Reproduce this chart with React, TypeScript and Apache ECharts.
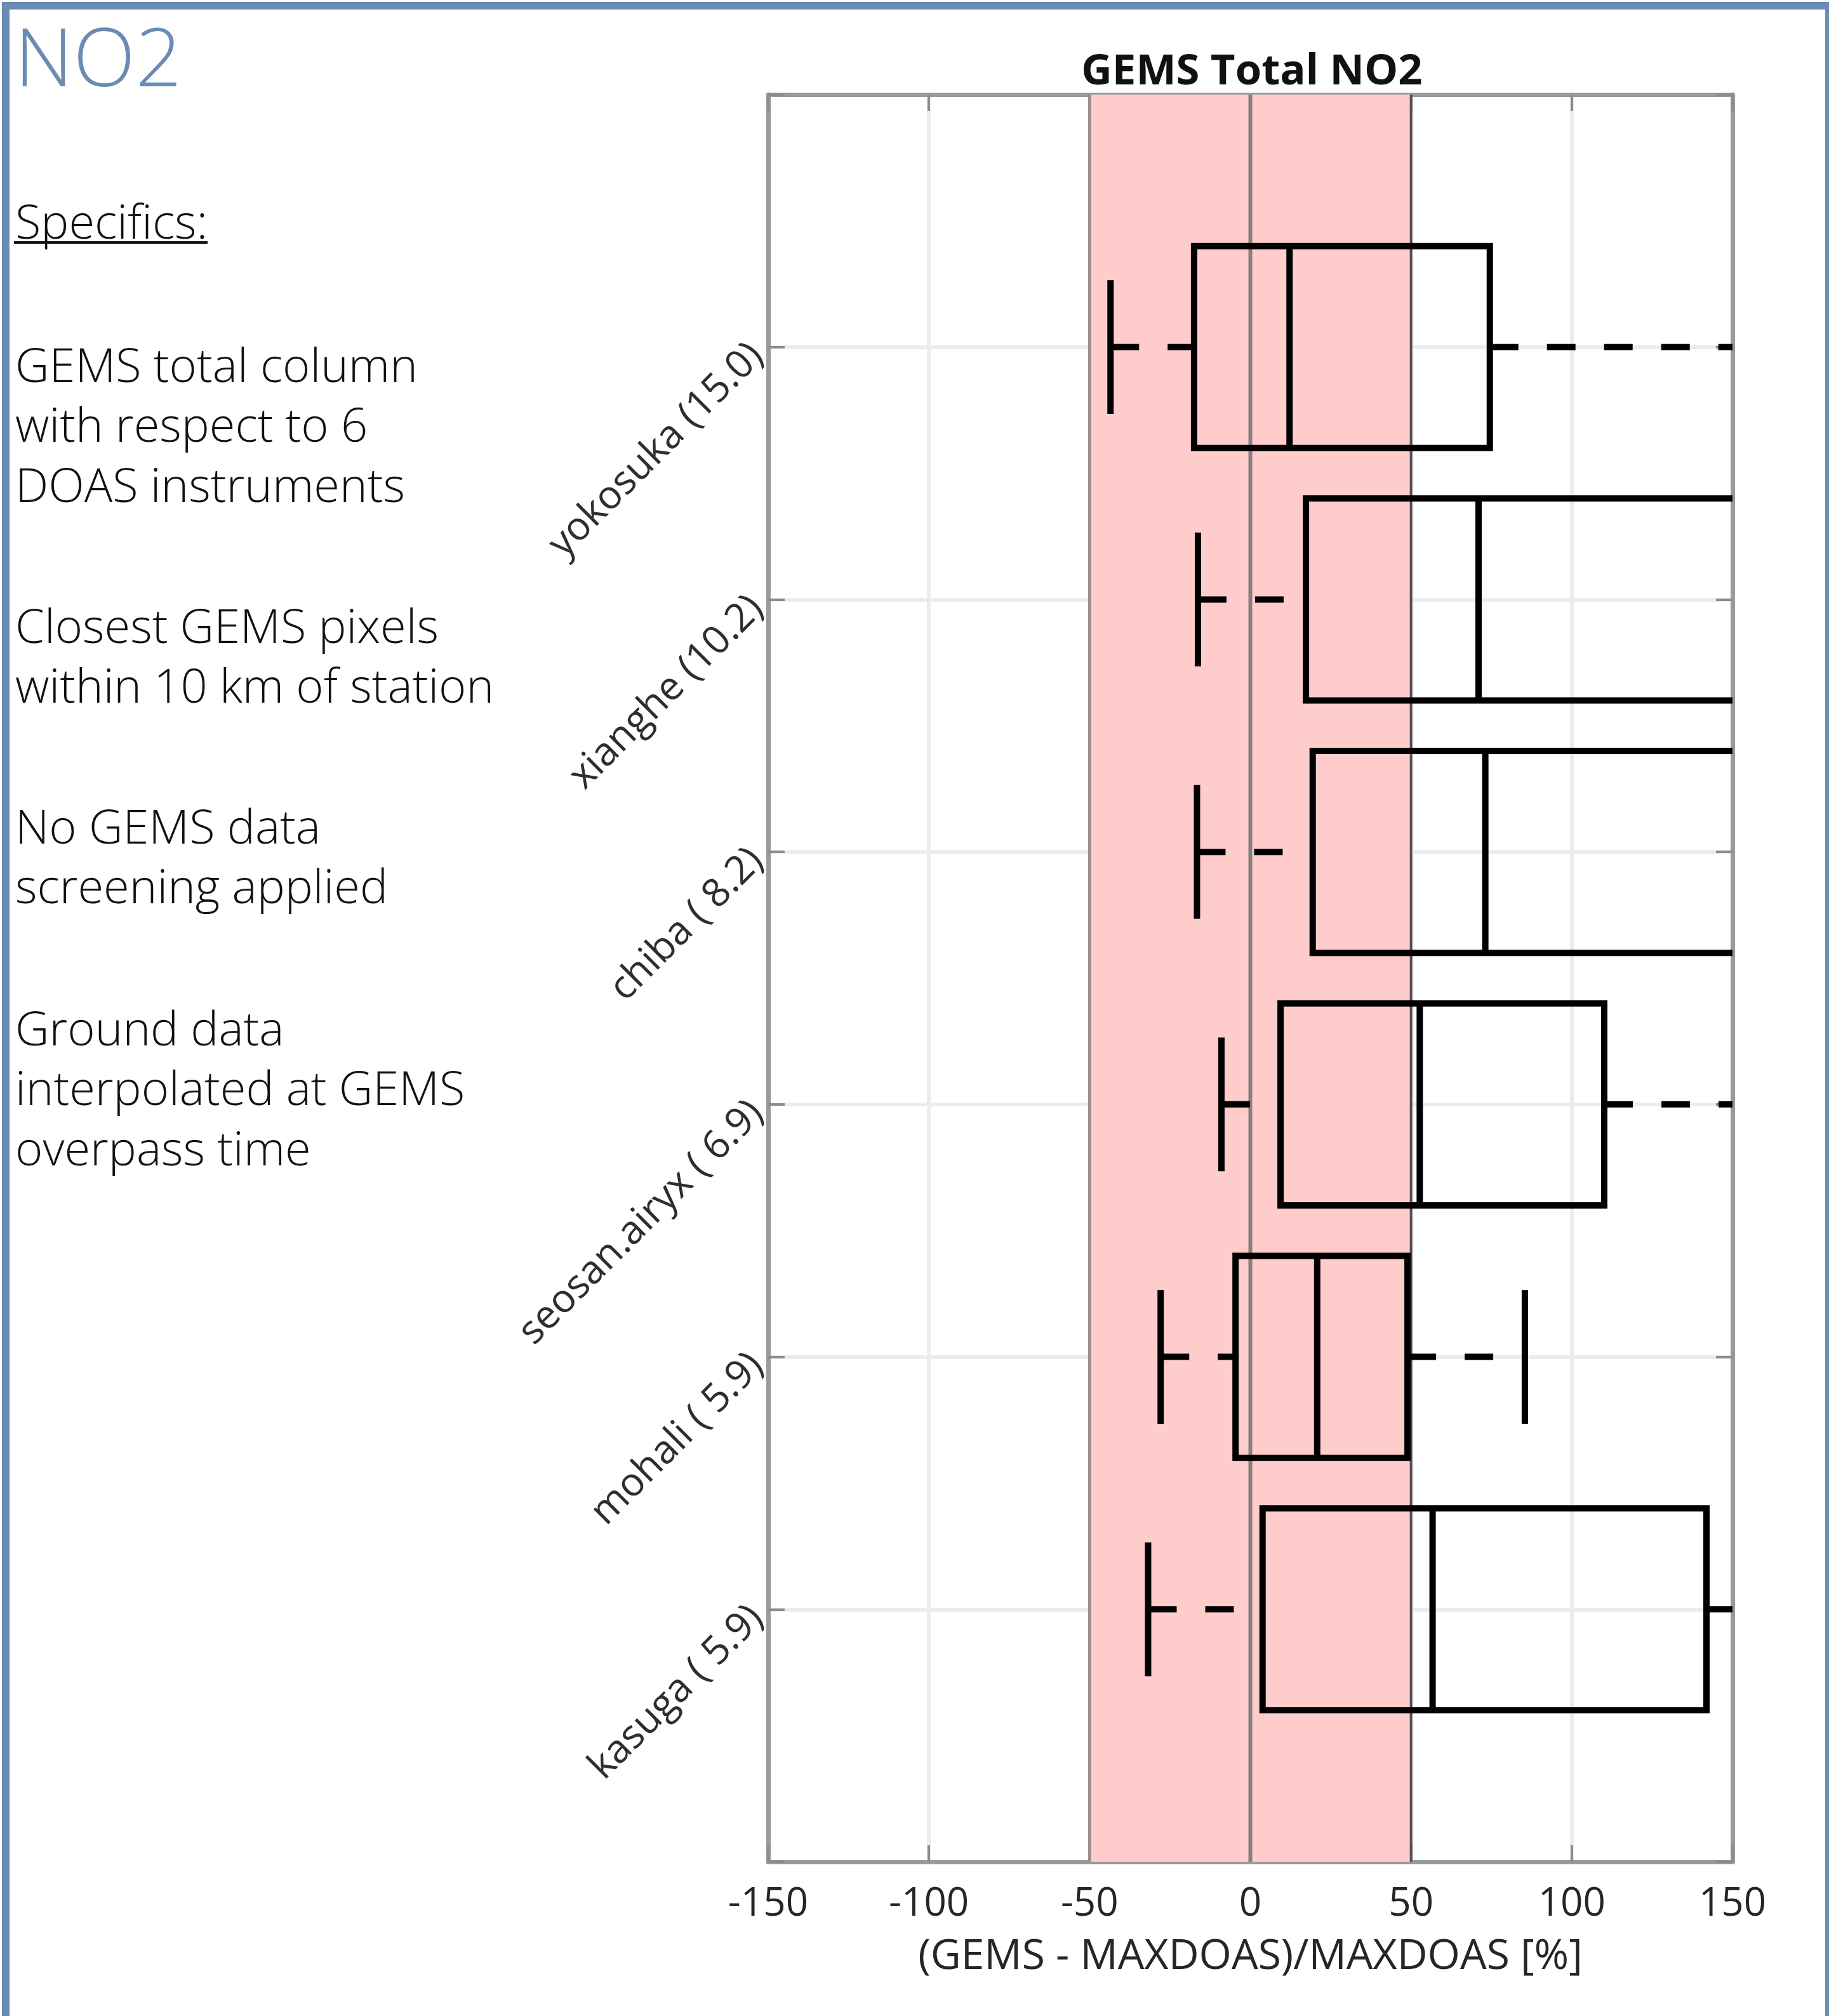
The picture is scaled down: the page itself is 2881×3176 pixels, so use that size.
import React, { useEffect, useRef } from "react";
import * as echarts from "echarts";

// ---- data ----
const stations = [
  "yokosuka (15.0)",
  "xianghe (10.2)",
  "chiba ( 8.2)",
  "seosan.airyx ( 6.9)",
  "mohali ( 5.9)",
  "kasuga ( 5.9)",
];
const whiskerLow = [-43.5, -16.3, -16.6, -9.0, -27.9, -31.8];
const quartile1 = [-17.5, 17.3, 19.4, 9.4, -4.6, 3.8];
const medians = [12.2, 71.0, 73.1, 52.7, 20.8, 56.7];
const quartile3 = [74.5, 165, 168, 110.1, 48.9, 141.9];
const whiskerHigh = [190, 260, 250, 200, 85.4, 175];
const xTicks = [-150, -100, -50, 0, 50, 100, 150];
const agreementBand = [-50, 50];
const referenceLines = [-50, 0, 50];

const chartTitle = "GEMS Total NO2";
const xAxisName = "(GEMS - MAXDOAS)/MAXDOAS [%]";
const pageTitle = "NO2";
const specificsHeading = "Specifics:";
const specificsLines = [
  ["GEMS total column", "with respect to 6", "DOAS instruments"],
  ["Closest GEMS pixels", "within 10 km of station"],
  ["No GEMS data", "screening applied"],
  ["Ground data", "interpolated at GEMS", "overpass time"],
];

// ---- styles ----
const refLineStyles = [
  { color: "#a08c8c", width: 5 },
  { color: "#888080", width: 6 },
  { color: "#555050", width: 4 },
];
const BORDER = "#6A8CB4";
const FONT = "'Open Sans', 'DejaVu Sans', sans-serif";

export default function App() {
  const ref = useRef<HTMLDivElement>(null);

  useEffect(() => {
    document.body.style.margin = "0";
    document.body.style.overflow = "hidden";
    const chart = echarts.init(ref.current!, null, { renderer: "svg" });

    const boxData = stations.map((_, i) => [
      i + 1,
      whiskerLow[i],
      quartile1[i],
      medians[i],
      quartile3[i],
      whiskerHigh[i],
    ]);

    const xMin = xTicks[0];
    const xMax = xTicks[xTicks.length - 1];
    const xInterval = xTicks[1] - xTicks[0];

    const bodyFont = `300 74px ${FONT}`;
    const graphics: any[] = [];
    graphics.push(
      { type: "rect", shape: { x: 3, y: 3, width: 12, height: 3173 }, style: { fill: BORDER }, z: 100 },
      { type: "rect", shape: { x: 3, y: 3, width: 2878, height: 12 }, style: { fill: BORDER }, z: 100 },
      { type: "rect", shape: { x: 2875, y: 3, width: 6, height: 3173 }, style: { fill: BORDER }, z: 100 },
      {
        type: "text",
        x: 23,
        y: 86,
        style: {
          text: pageTitle,
          fill: BORDER,
          font: `300 128px ${FONT}`,
          align: "left",
          verticalAlign: "middle",
        },
      },
      {
        type: "text",
        x: 24,
        y: 347,
        style: {
          text: specificsHeading,
          fill: "#111",
          font: bodyFont,
          align: "left",
          verticalAlign: "middle",
        },
      },
      {
        type: "line",
        shape: { x1: 22, y1: 382, x2: 327, y2: 382 },
        style: { stroke: "#111", lineWidth: 4 },
      }
    );
    const blockStarts = [573, 984, 1300, 1618];
    const lineStep = 94.5;
    specificsLines.forEach((block, b) => {
      block.forEach((line, j) => {
        graphics.push({
          type: "text",
          x: 24,
          y: blockStarts[b] + j * lineStep,
          style: {
            text: line,
            fill: "#111",
            font: bodyFont,
            lineHeight: 80,
            align: "left",
            verticalAlign: "middle",
          },
        });
      });
    });
    graphics.push({
      type: "text",
      x: 1972,
      y: 107,
      style: {
        text: chartTitle,
        fill: "#111",
        font: `bold 67px ${FONT}`,
        align: "center",
        verticalAlign: "middle",
      },
    });

    const frameLine = { onZero: false, lineStyle: { color: "#9a9a9a", width: 7 } };
    const innerTick = { inside: true, length: 26, lineStyle: { color: "#8c8c8c", width: 4 } };

    chart.setOption({
      animation: false,
      backgroundColor: "#ffffff",
      textStyle: { fontFamily: FONT },
      grid: { left: 1210, top: 149, width: 1519, height: 2784, containLabel: false },
      xAxis: [
        {
          type: "value",
          position: "bottom",
          min: xMin,
          max: xMax,
          interval: xInterval,
          axisLine: { show: true, ...frameLine },
          axisTick: { show: true, ...innerTick },
          axisLabel: { fontSize: 62, lineHeight: 62, color: "#262626", margin: 30, fontFamily: FONT },
          splitLine: { show: true, lineStyle: { color: "#ececec", width: 6 } },
          name: xAxisName,
          nameLocation: "middle",
          nameGap: 110,
          nameTextStyle: { fontSize: 66, lineHeight: 66, color: "#262626", fontFamily: FONT },
        },
        {
          type: "value",
          position: "top",
          min: xMin,
          max: xMax,
          interval: xInterval,
          axisLine: { show: true, ...frameLine },
          axisTick: { show: true, ...innerTick },
          axisLabel: { show: false },
          splitLine: { show: false },
        },
      ],
      yAxis: [
        {
          type: "value",
          position: "left",
          min: 0,
          max: stations.length + 1,
          interval: 1,
          inverse: true,
          axisLine: { show: true, ...frameLine },
          axisTick: { show: true, ...innerTick },
          axisLabel: {
            rotate: 45,
            margin: 22,
            fontSize: 62,
            color: "#2e2e2e",
            fontFamily: FONT,
            formatter: (v: number) => stations[v - 1] ?? "",
          },
          splitLine: { show: true, lineStyle: { color: "#ececec", width: 6 } },
        },
        {
          type: "value",
          position: "right",
          min: 0,
          max: stations.length + 1,
          interval: 1,
          inverse: true,
          axisLine: { show: true, ...frameLine },
          axisTick: { show: true, ...innerTick },
          axisLabel: { show: false },
          splitLine: { show: false },
        },
      ],
      graphic: graphics,
      series: [
        {
          type: "custom",
          name: "band",
          coordinateSystem: "cartesian2d",
          xAxisIndex: 0,
          yAxisIndex: 0,
          z: 1,
          silent: true,
          clip: true,
          encode: { x: [0, 1] },
          data: [agreementBand],
          renderItem: (params: any, api: any) => {
            const cs = params.coordSys;
            const x1 = api.coord([api.value(0), 1])[0];
            const x2 = api.coord([api.value(1), 1])[0];
            return {
              type: "rect",
              shape: { x: x1, y: cs.y, width: x2 - x1, height: cs.height },
              style: { fill: "#FFCCCC" },
            };
          },
        },
        {
          type: "custom",
          name: "reference",
          coordinateSystem: "cartesian2d",
          xAxisIndex: 0,
          yAxisIndex: 0,
          z: 2,
          silent: true,
          clip: true,
          encode: { x: 0 },
          data: referenceLines.map((v) => [v]),
          renderItem: (params: any, api: any) => {
            const cs = params.coordSys;
            const x = api.coord([api.value(0), 1])[0];
            const st = refLineStyles[params.dataIndex];
            return {
              type: "line",
              shape: { x1: x, y1: cs.y, x2: x, y2: cs.y + cs.height },
              style: { stroke: st.color, lineWidth: st.width },
            };
          },
        },
        {
          type: "custom",
          name: "boxes",
          coordinateSystem: "cartesian2d",
          xAxisIndex: 0,
          yAxisIndex: 0,
          z: 3,
          clip: true,
          encode: { x: [1, 2, 3, 4, 5], y: 0 },
          data: boxData,
          renderItem: (params: any, api: any) => {
            const pos = api.value(0);
            const c = (v: number) => api.coord([v, pos]);
            const [xLo, yc] = c(api.value(1));
            const xQ1 = c(api.value(2))[0];
            const xMed = c(api.value(3))[0];
            const xQ3 = c(api.value(4))[0];
            const xHi = c(api.value(5))[0];
            const boxHalf = api.size([0, 0.4])[1];
            const capHalf = api.size([0, 0.265])[1];
            const lw = 10;
            const solid = { stroke: "#000", lineWidth: lw, fill: "none" };
            const dashed = { stroke: "#000", lineWidth: lw, lineDash: [45, 45] };
            return {
              type: "group",
              children: [
                { type: "line", shape: { x1: xLo, y1: yc, x2: xQ1, y2: yc }, style: dashed },
                { type: "line", shape: { x1: xQ3, y1: yc, x2: xHi, y2: yc }, style: dashed },
                { type: "line", shape: { x1: xLo, y1: yc - capHalf, x2: xLo, y2: yc + capHalf }, style: solid },
                { type: "line", shape: { x1: xHi, y1: yc - capHalf, x2: xHi, y2: yc + capHalf }, style: solid },
                {
                  type: "rect",
                  shape: { x: xQ1, y: yc - boxHalf, width: xQ3 - xQ1, height: boxHalf * 2 },
                  style: solid,
                },
                { type: "line", shape: { x1: xMed, y1: yc - boxHalf, x2: xMed, y2: yc + boxHalf }, style: solid },
              ],
            };
          },
        },
      ],
    });

    return () => chart.dispose();
  }, []);

  return (
    <div
      ref={ref}
      style={{ position: "absolute", left: 0, top: 0, width: 2881, height: 3176, background: "#fff" }}
    />
  );
}
